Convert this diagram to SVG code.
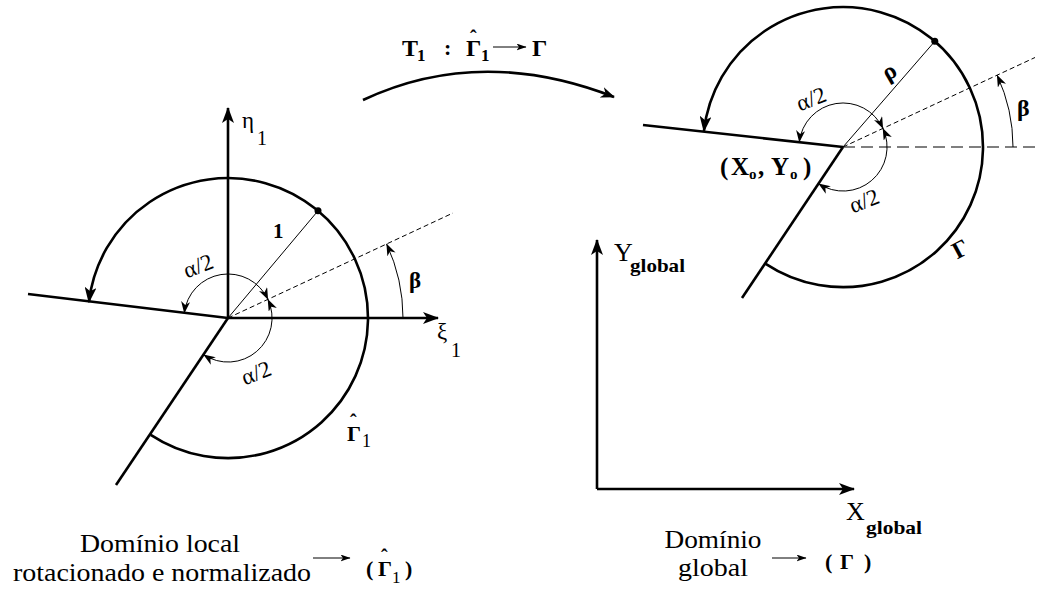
<svg xmlns="http://www.w3.org/2000/svg" width="1039" height="590" viewBox="0 0 1039 590" font-family="Liberation Serif">
<style>
.b{font-weight:bold}
.thick{fill:none;stroke:#000;stroke-width:2.6}
.thin{fill:none;stroke:#000;stroke-width:1}
.dash{fill:none;stroke:#000;stroke-width:1;stroke-dasharray:5,3}
.dashL{fill:none;stroke:#000;stroke-width:1.2;stroke-dasharray:12,6}
</style>
<defs>
<marker id="big" markerUnits="userSpaceOnUse" viewBox="0 0 16 12" markerWidth="16" markerHeight="12" refX="15" refY="6" orient="auto"><path d="M0,0 L16,6 L0,12 L4,6 z" fill="#000"/></marker>
<marker id="med" markerUnits="userSpaceOnUse" viewBox="0 0 14 11" markerWidth="14" markerHeight="11" refX="13" refY="5.5" orient="auto"><path d="M0,0 L14,5.5 L0,11 L4,5.5 z" fill="#000"/></marker>
<marker id="sm" markerUnits="userSpaceOnUse" viewBox="0 0 12 9" markerWidth="12" markerHeight="9" refX="11.5" refY="4.5" orient="auto-start-reverse"><path d="M0,0 L12,4.5 L0,9 L3.5,4.5 z" fill="#000"/></marker>
<marker id="tiny" markerUnits="userSpaceOnUse" viewBox="0 0 10 7" markerWidth="10" markerHeight="7" refX="9.5" refY="3.5" orient="auto"><path d="M0,0 L10,3.5 L0,7 L2.5,3.5 z" fill="#000"/></marker>
</defs>

<g id="connectors">
  <path class="thick" d="M363,100 Q480,45 614,97" marker-end="url(#med)"/>
  <line class="thin" x1="313" y1="558" x2="350" y2="558" stroke-width="1.4" marker-end="url(#tiny)"/>
  <line class="thin" x1="772" y1="558" x2="806" y2="558" stroke-width="1.4" marker-end="url(#tiny)"/>
  <line class="thin" x1="493" y1="47" x2="526" y2="47" stroke-width="1.4" marker-end="url(#tiny)"/>
</g>

<g id="transform-label">
  <text class="b" x="402" y="56" font-size="24">T<tspan x="417" y="61" font-size="17">1</tspan></text>
  <text class="b" x="444" y="55" font-size="22">:</text>
  <text class="b" x="466" y="56" font-size="24">Γ<tspan x="470" y="45" font-size="20">ˆ</tspan><tspan x="481" y="61" font-size="17">1</tspan></text>
  <text class="b" x="532" y="56" font-size="24">Γ</text>
</g>

<g id="local-domain">
  <line class="thick" x1="228" y1="318" x2="228" y2="108" stroke-width="2.2" marker-end="url(#big)"/>
  <line class="thick" x1="228" y1="318" x2="438" y2="318" stroke-width="2.2" marker-end="url(#big)"/>
  <line class="thick" x1="228" y1="318" x2="28" y2="294"/>
  <line class="thick" x1="228" y1="318" x2="116" y2="485"/>
  <path class="thick" d="M150.7,434.8 A140,140 0 1 0 88.9,302.2" marker-end="url(#big)"/>
  <line class="thin" x1="228" y1="318" x2="318" y2="210.8"/>
  <circle cx="318" cy="210.8" r="3.5" fill="#000"/>
  <line class="dash" x1="228" y1="318" x2="453" y2="213"/>
  <path class="thin" d="M403,318 A175,175 0 0 0 386.6,244" marker-end="url(#sm)"/>
  <path class="thin" d="M267.9,299.4 A44,44 0 0 0 184.3,313" marker-start="url(#sm)" marker-end="url(#sm)"/>
  <path class="thin" d="M267.9,299.4 A44,44 0 0 1 203.7,354.7" marker-start="url(#sm)" marker-end="url(#sm)"/>
  <text x="242" y="128" font-size="23">η<tspan x="257" y="145" font-size="20">1</tspan></text>
  <text x="437" y="339" font-size="23">ξ<tspan x="451" y="357" font-size="20">1</tspan></text>
  <text class="b" x="273" y="238" font-size="21">1</text>
  <text class="b" x="409" y="288" font-size="23">β</text>
  <text x="0" y="0" font-size="23" text-anchor="middle" transform="translate(201,273) rotate(-22)">α/2</text>
  <text x="0" y="0" font-size="23" text-anchor="middle" transform="translate(259,380) rotate(-22)">α/2</text>
  <text class="b" x="347" y="441" font-size="22">Γ<tspan x="350" y="429" font-size="20">ˆ</tspan><tspan x="362" y="447" font-size="18" font-weight="normal">1</tspan></text>
</g>

<g id="global-domain">
  <line class="thick" x1="843" y1="147" x2="643" y2="125"/>
  <line class="thick" x1="843" y1="147" x2="742" y2="298"/>
  <path class="thick" d="M765.7,263.8 A140,140 0 1 0 703.9,131.2" marker-end="url(#big)"/>
  <line class="thin" x1="843" y1="147" x2="934.8" y2="41.3"/>
  <circle cx="934.8" cy="41.3" r="3.5" fill="#000"/>
  <line class="dash" x1="843" y1="147" x2="1035" y2="57.5"/>
  <line class="dashL" x1="843" y1="147" x2="1039" y2="147"/>
  <path class="thin" d="M1013,147 A170,170 0 0 0 997.1,75.2" marker-end="url(#sm)"/>
  <path class="thin" d="M882.9,128.4 A44,44 0 0 0 799.3,142" marker-start="url(#sm)" marker-end="url(#sm)"/>
  <path class="thin" d="M882.9,128.4 A44,44 0 0 1 818.7,183.7" marker-start="url(#sm)" marker-end="url(#sm)"/>
  <text class="b" x="0" y="0" font-size="24" text-anchor="middle" transform="translate(893,78) rotate(-30)">ρ</text>
  <text class="b" x="1017" y="116" font-size="24">β</text>
  <text x="0" y="0" font-size="23" text-anchor="middle" transform="translate(814,106) rotate(-22)">α/2</text>
  <text x="0" y="0" font-size="23" text-anchor="middle" transform="translate(867,208) rotate(-22)">α/2</text>
  <text class="b" x="720" y="175" font-size="25">(<tspan x="731">X</tspan><tspan x="749" y="179" font-size="15">o</tspan><tspan x="758" y="175">,</tspan><tspan x="771">Y</tspan><tspan x="790" y="179" font-size="15">o</tspan><tspan x="803" y="175">)</tspan></text>
  <text class="b" x="0" y="0" font-size="24" text-anchor="middle" transform="translate(964,256) rotate(-28)">Γ</text>
</g>

<g id="global-axes">
  <line class="thick" x1="597" y1="489" x2="597" y2="240" marker-end="url(#big)"/>
  <line class="thick" x1="597" y1="489" x2="854" y2="489" marker-end="url(#big)"/>
  <text x="614" y="261" font-size="26">Y</text>
  <text class="b" x="630" y="272" font-size="19" textLength="55" lengthAdjust="spacingAndGlyphs">global</text>
  <text x="846" y="520" font-size="26">X</text>
  <text class="b" x="866" y="534" font-size="19" textLength="56" lengthAdjust="spacingAndGlyphs">global</text>
</g>

<g id="legend-local">
  <text x="160" y="552" font-size="26" text-anchor="middle" textLength="160" lengthAdjust="spacingAndGlyphs">Domínio local</text>
  <text x="162" y="581" font-size="26" text-anchor="middle" textLength="298" lengthAdjust="spacingAndGlyphs">rotacionado e normalizado</text>
  <text class="b" x="366" y="576" font-size="22">(<tspan x="378">Γ</tspan><tspan x="381" y="564" font-size="20">ˆ</tspan><tspan x="392" y="583" font-size="17" font-weight="normal">1</tspan><tspan x="405" y="576">)</tspan></text>
</g>

<g id="legend-global">
  <text x="713" y="548" font-size="26" text-anchor="middle" textLength="97" lengthAdjust="spacingAndGlyphs">Domínio</text>
  <text x="713" y="576" font-size="26" text-anchor="middle" textLength="70" lengthAdjust="spacingAndGlyphs">global</text>
  <text class="b" x="825" y="569" font-size="22">(<tspan x="840">Γ</tspan><tspan x="864">)</tspan></text>
</g>
</svg>
